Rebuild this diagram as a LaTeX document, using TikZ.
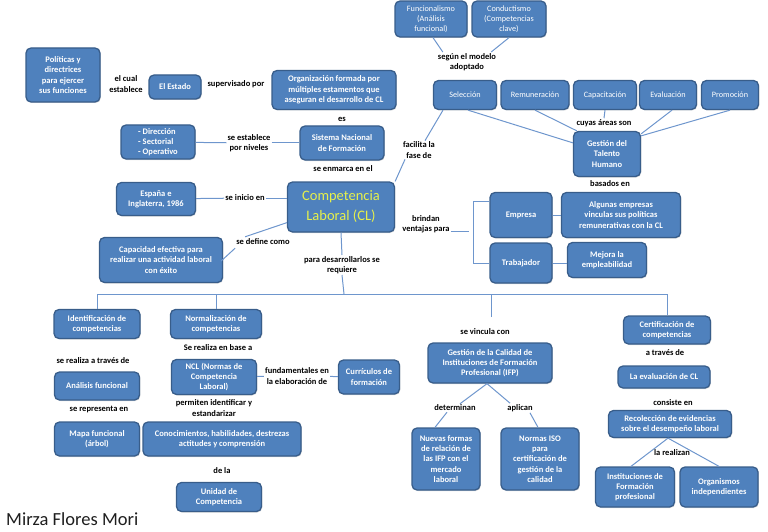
\documentclass[tikz,border=0pt]{standalone}
\usepackage{fontspec}
\setmainfont{Carlito}
\usetikzlibrary{shadows}
\definecolor{boxblue}{RGB}{79,129,189}
\definecolor{boxline}{RGB}{56,93,138}
\definecolor{connline}{RGB}{110,150,205}
\definecolor{cltext}{RGB}{230,240,75}
\definecolor{autortext}{RGB}{30,30,30}
\tikzset{
	box/.style={draw=boxline, line width=1.3pt, fill=boxblue, rounded corners=5pt, text=white,
		align=center, inner sep=1pt, font=\bfseries\fontsize{8.5}{10.3}\selectfont,
		drop shadow={shadow xshift=0.8pt, shadow yshift=-1pt, opacity=0.3}},
	light/.style={font=\fontsize{8.2}{10}\selectfont},
	dims/.style 2 args={minimum width=#1pt, minimum height=#2pt},
	lbl/.style={align=center, inner sep=1pt, font=\bfseries\fontsize{8.5}{10.3}\selectfont},
	conn/.style={draw=connline, line width=1pt},
}

\begin{document}
\begin{tikzpicture}[x=1pt, y=-1pt]
	\useasboundingbox (0,0) rectangle (768,532);
	
	% upper left
	\node[box, dims={74}{54}] at (63,75)(pol){Políticas y\\directrices\\para ejercer\\sus funciones};
	\node[lbl] at (126,84)(l1){el cual\\establece};
	\node[box, dims={52}{24}] at (175,87)(estado){El Estado};
	\node[lbl] at (236,84)(l2){supervisado por};
	\node[box, dims={124}{39}] at (334,90)(org){Organización formada por\\múltiples estamentos que\\aseguran el desarrollo de CL};
	\node[lbl] at (342,119)(l3){es};
	\node[box, dims={74}{34}, align=left] at (158,142)(dir){- Dirección\\- Sectorial\\- Operativo};
	\node[lbl] at (249,143)(l4){se establece\\por niveles};
	\node[box, dims={84}{34}] at (342,143)(snf){Sistema Nacional\\de Formación};
	\node[lbl] at (343,169)(l5){se enmarca en el};
	\path[conn] (dir) edge (l4)	(l4) edge (snf);
	
	% centre
	\node[box, dims={107}{50}, font=\fontsize{14.5}{20}\selectfont, text=cltext] at (341,207)(cl){Competencia\\Laboral (CL)};
	\node[box, dims={79}{33}] at (156,199)(esp){España e\\Inglaterra, 1986};
	\node[lbl] at (245,198)(l10){se inicio en};
	\node[lbl] at (263,242)(l11){se define como};
	\node[box, dims={123}{45}] at (161,260)(capef){Capacidad efectiva para\\realizar una actividad laboral\\con éxito};
	\node[lbl] at (342,265)(l12){para desarrollarlos se\\requiere};
	\path[conn] (esp) edge (l10)	(l10) edge (cl.west |- l10);
	\draw[conn] ([yshift=10pt]cl.south west) -- ([xshift=10pt,yshift=1pt]l11.north west);
	\draw[conn] ([yshift=-2pt]l11.south west) -- ([xshift=-2pt,yshift=-1pt]capef.east);
	\draw[conn] (cl.south) -- (l12.north);
	
	% upper right
	\node[box, dims={72}{36}, light] at (431,19)(func){Funcionalismo\\(Análisis\\funcional)};
	\node[box, dims={74}{36}, light] at (509,19)(cond){Conductismo\\(Competencias\\clave)};
	\node[lbl] at (467,62)(l6){según el modelo\\adoptado};
	\node[box, dims={63}{29}, light] at (465,95)(sel){Selección};
	\node[box, dims={68}{29}, light] at (535,95)(rem){Remuneración};
	\node[box, dims={63}{29}, light] at (605,95)(cap){Capacitación};
	\node[box, dims={57}{29}, light] at (668,95)(eva){Evaluación};
	\node[box, dims={57}{29}, light] at (730,95)(pro){Promoción};
	\node[lbl] at (604,123)(l7){cuyas áreas son};
	\node[box, dims={67}{45}] at (607,154)(gth){Gestión del\\Talento\\Humano};
	\node[lbl] at (419,150)(l8){facilita la\\fase de};
	\node[lbl] at (610,184)(l9){basados en};
	\draw[conn] ([xshift=2pt]func.south) -- ([xshift=6pt]l6.north west);
	\draw[conn] (cond.south) -- ([xshift=-6pt]l6.north east);
	\draw[conn] (cap.south) -- (l7.north);
	\draw[conn] ([xshift=3pt]sel.south) -- ([yshift=-12pt]gth.north west);
	\draw[conn] (rem.south) -- ([xshift=4pt]gth.north west);
	\draw[conn] ([xshift=4pt]eva.south) -- ([yshift=-3pt]gth.north east);
	\draw[conn] (pro.south) -- ([yshift=-5pt]gth.north east);
	\draw[conn] ([xshift=-22pt]sel.south) -- ([xshift=6pt]l8.north);
	\draw[conn] ([xshift=-14pt]l8.south) -- (cl.north east);
	
	% ventajas
	\node[lbl] at (426,224)(l13){brindan\\ventajas para};
	\node[box, dims={62}{45}] at (521,215)(emp){Empresa};
	\node[box, dims={119}{45}] at (621,215)(alg){Algunas empresas\\vinculas sus políticas\\remunerativas con la CL};
	\node[box, dims={62}{40}] at (521,263)(trab){Trabajador};
	\node[box, dims={79}{35}] at (607,260)(mej){Mejora la\\empleabilidad};
	\draw[conn] ([yshift=-7pt]l13.east) -- ++(18,0);
	\draw[conn] ([yshift=-10pt]emp.north west) -- ++(-16,0) |- (trab.west);
	\path[conn] (emp) edge (alg)	(trab.east) edge (mej.west |- trab.east);
	
	% lower branches
	\coordinate (bus) at (344,294);
	\coordinate (vin) at (491,317);
	\node[box, dims={86}{29}] at (97,324)(ident){Identificación de\\competencias};
	\node[box, dims={91}{29}] at (216,324)(norm){Normalización de\\competencias};
	\node[lbl] at (218,348)(l14){Se realiza en base a};
	\node[lbl] at (93,361)(l15){se realiza a través de};
	\node[box, dims={85}{28}] at (97,386)(anal){Análisis funcional};
	\node[lbl] at (99,409)(l16){se representa en};
	\node[box, dims={85}{34}] at (97,439)(mapa){Mapa funcional\\(árbol)};
	\node[box, dims={85}{35}] at (214,377)(ncl){NCL (Normas de\\Competencia\\Laboral)};
	\node[lbl] at (297,376)(l17){fundamentales en\\la elaboración de};
	\node[box, dims={61}{34}] at (369,377)(curr){Currículos de\\formación};
	\node[lbl] at (214,408)(l18){permiten identificar y\\estandarizar};
	\node[box, dims={158}{34}] at (222,439)(conoc){Conocimientos, habilidades, destrezas\\actitudes y comprensión};
	\node[lbl] at (222,471)(l19){de la};
	\node[box, dims={85}{29}] at (219,497)(unid){Unidad de\\Competencia};
	\path[conn] (ncl) edge (l17)	(l17) edge (curr);
	
	% calidad
	\node[lbl] at (485,332)(l20){se vincula con};
	\node[box, dims={124}{40}] at (490,363)(gcal){Gestión de la Calidad de\\Instituciones de Formación\\Profesional (IFP)};
	\node[lbl] at (455,408)(l21){determinan};
	\node[lbl] at (520,408)(l22){aplican};
	\node[box, dims={68}{62}] at (446,459)(nuev){Nuevas formas\\de relación de\\las IFP con el\\mercado\\laboral};
	\node[box, dims={78}{62}] at (540,459)(iso){Normas ISO\\para\\certificación de\\gestión de la\\calidad};
	\draw[conn] ([xshift=-3pt]gcal.south) -- ([xshift=5pt]l21.north);
	\draw[conn] ([xshift=-3pt]gcal.south) -- ([xshift=-10pt]l22.north);
	\draw[conn] ([xshift=-8pt]l21.south) -- ([xshift=-11pt]nuev.north);
	\draw[conn] ([xshift=10pt]l22.south) -- ([xshift=-2pt]iso.north);
	
	% certificacion
	\node[box, dims={87}{28}] at (667,330)(cert){Certificación de\\competencias};
	\node[lbl] at (665,353)(l23){a través de};
	\node[box, dims={92}{22}] at (664,377)(eval){La evaluación de CL};
	\node[lbl] at (673,403)(l24){consiste en};
	\node[box, dims={123}{27}] at (670,424)(rec){Recolección de evidencias\\sobre el desempeño laboral};
	\node[box, dims={79}{40}] at (635,487)(inst){Instituciones de\\Formación\\profesional};
	\node[box, dims={78}{40}] at (719,487)(orgi){Organismos\\independientes};
	\draw[conn] ([xshift=-2pt]rec.south) -- ([xshift=-4pt]inst.north);
	\draw[conn] ([xshift=-2pt]rec.south) -- (orgi.north);
	\node[lbl] at (672,453)(l25){la realizan};
	
	% bus
	\draw[conn] (l12.south) -- (bus);
	\draw[conn] (ident.north) -- (ident.north |- bus) -- (cert.north |- bus) -- (cert.north);
	\draw[conn] (norm.north) -- (norm.north |- bus);
	\draw[conn] (vin) -- (vin |- bus);
	
	\node[anchor=west, inner sep=0pt, font=\fontsize{18.5}{22}\selectfont, text=autortext] at (6,519)(autor){Mirza Flores Mori};
\end{tikzpicture}
\end{document}
